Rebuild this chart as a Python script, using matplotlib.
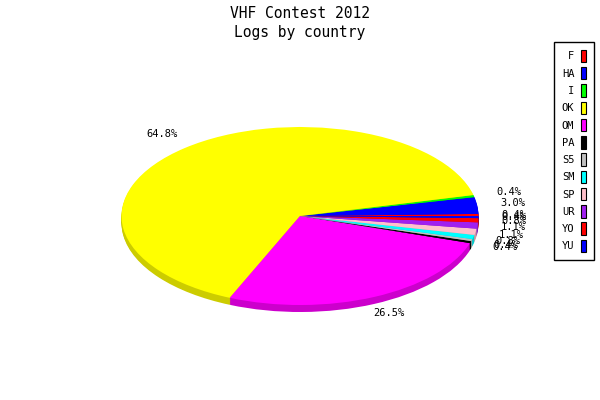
import matplotlib
matplotlib.use("Agg")
import matplotlib.pyplot as plt
import matplotlib.colors as mcolors

countries = ["F", "HA", "I", "OK", "OM", "PA", "S5", "SM", "SP", "UR", "YO", "YU"]
logs = [1, 8, 1, 171, 70, 1, 1, 2, 3, 3, 2, 1]
colors = ["#ff0000", "#0000ff", "#00ff00", "#ffff00", "#ff00ff", "#000000",
          "#c0c0c0", "#00ffff", "#ffc0cb", "#a020f0", "#ff0000", "#0000ff"]
title_lines = ["VHF Contest 2012", "Logs by country"]

W, H = 600, 400
fig = plt.figure(figsize=(6, 4), dpi=100)
ax = fig.add_axes([0, 0, 1, 1])
ax.set_axis_off()

rx, ry = 178.5, 89.0   # pixel radii of the elliptical pie
cx, cy = 300.0, 216.0  # centre in pixels (from top)
thick = 7

dark = [tuple(c * 0.8 for c in mcolors.to_rgb(col)) for col in colors]
for k in range(thick, 0, -1):
    ax.pie(logs, colors=dark, startangle=0, counterclock=True,
           center=(0, -k / ry), radius=1.0)

wedges, texts, autotexts = ax.pie(
    logs, colors=colors, startangle=0, counterclock=True,
    center=(0, 0), radius=1.0, autopct="%.1f%%", pctdistance=1.2,
    textprops=dict(family="DejaVu Sans Mono", fontsize=7.5, color="black"))

ax.set_aspect("auto")
ax.set_xlim(-cx / rx, (W - cx) / rx)
ax.set_ylim(-(H - cy) / ry, cy / ry)

fig.text(0.5, 1 - 13 / H, title_lines[0], ha="center", va="center",
         family="DejaVu Sans Mono", fontsize=10.5)
fig.text(0.5, 1 - 32 / H, title_lines[1], ha="center", va="center",
         family="DejaVu Sans Mono", fontsize=10.5)

leg = ax.legend(wedges, countries, loc="upper left",
                bbox_to_anchor=(554 / W, 1 - 42 / H), bbox_transform=fig.transFigure,
                borderaxespad=0, markerfirst=False, fancybox=False,
                edgecolor="black", framealpha=1,
                prop=dict(family="DejaVu Sans Mono", size=7.5),
                handlelength=0.55, handleheight=1.45, handletextpad=0.6,
                labelspacing=0.47, borderpad=0.75)
leg.get_frame().set_linewidth(1.0)
for h in leg.legend_handles:
    h.set_edgecolor("black")
    h.set_linewidth(0.8)
for t in leg.get_texts():
    t.set_ha("right")

fig.savefig("out.png", dpi=100)
